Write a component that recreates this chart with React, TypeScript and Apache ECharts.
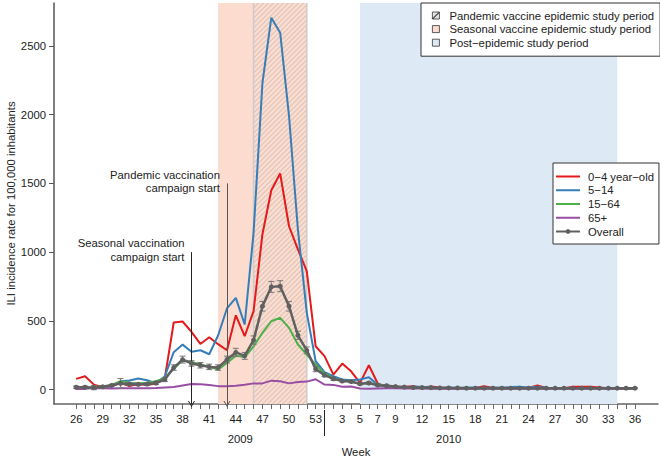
import React, { useEffect, useRef } from 'react';
import * as echarts from 'echarts';

const FONT = 'Liberation Sans, Arial, sans-serif';

// Weeks (2009: 26..53, 2010: 1..36)
const weeks2009 = [26, 27, 28, 29, 30, 31, 32, 33, 34, 35, 36, 37, 38, 39, 40, 41, 42, 43, 44, 45, 46, 47, 48, 49, 50, 51, 52, 53];
const weeks2010 = [1, 2, 3, 4, 5, 6, 7, 8, 9, 10, 11, 12, 13, 14, 15, 16, 17, 18, 19, 20, 21, 22, 23, 24, 25, 26, 27, 28, 29, 30, 31, 32, 33, 34, 35, 36];
const labeledWeeks2009 = [26, 29, 32, 35, 38, 41, 44, 47, 50, 53];
const labeledWeeks2010 = [3, 5, 7, 9, 12, 15, 18, 21, 24, 27, 30, 33, 36];
const yTicks = [0, 500, 1000, 1500, 2000, 2500];

// ILI incidence per 100,000
const age0to4 = [78, 97, 36, 18, 28, 48, 25, 40, 34, 44, 85, 488, 495, 420, 332, 381, 330, 286, 540, 388, 570, 1130, 1450, 1572, 1188, 1020, 861, 315, 243, 109, 189, 133, 49, 177, 44, 20, 15, 20, 25, 15, 22, 15, 12, 10, 10, 12, 25, 12, 10, 12, 15, 12, 30, 12, 10, 10, 20, 20, 20, 15, 10, 10, 8, 10];
const age5to14 = [15, 12, 15, 18, 22, 60, 66, 80, 68, 44, 97, 272, 327, 275, 286, 257, 393, 590, 667, 473, 1140, 2230, 2705, 2596, 1989, 1164, 560, 206, 127, 97, 73, 68, 73, 90, 36, 20, 18, 15, 20, 20, 15, 12, 15, 12, 15, 15, 12, 15, 15, 18, 20, 15, 20, 12, 12, 10, 10, 12, 12, 10, 10, 8, 8, 10];
const age15to64 = [12, 12, 16, 24, 34, 62, 49, 44, 49, 61, 85, 150, 215, 200, 182, 165, 146, 194, 247, 235, 315, 412, 497, 522, 449, 328, 255, 182, 115, 85, 65, 55, 45, 45, 40, 25, 18, 15, 12, 12, 10, 10, 10, 10, 10, 10, 10, 10, 10, 10, 10, 10, 12, 10, 10, 10, 10, 10, 10, 10, 10, 10, 10, 10];
const age65plus = [5, 5, 12, 10, 8, 10, 10, 10, 10, 12, 15, 18, 30, 40, 38, 33, 25, 24, 28, 35, 45, 45, 65, 60, 45, 55, 58, 75, 36, 34, 20, 22, 8, 6, 8, 10, 10, 8, 8, 8, 6, 6, 6, 6, 6, 6, 6, 6, 6, 6, 6, 6, 6, 6, 6, 6, 6, 6, 6, 6, 6, 6, 6, 6];
const overall = [17, 17, 14, 20, 30, 45, 40, 38, 40, 48, 73, 160, 218, 190, 177, 165, 160, 218, 270, 245, 360, 606, 747, 752, 606, 395, 285, 150, 105, 78, 62, 58, 42, 48, 32, 28, 22, 18, 15, 14, 14, 12, 12, 12, 10, 10, 10, 10, 10, 10, 10, 10, 10, 10, 10, 10, 10, 10, 10, 10, 10, 10, 10, 10];
const overallErr = [8, 8, 15, 8, 8, 35, 10, 10, 10, 12, 15, 20, 25, 20, 20, 20, 20, 25, 30, 25, 30, 35, 40, 40, 35, 30, 25, 20, 12, 10, 8, 8, 8, 8, 6, 5, 5, 5, 5, 4, 4, 4, 4, 4, 4, 4, 4, 4, 4, 4, 4, 4, 4, 4, 4, 4, 4, 4, 4, 4, 4, 4, 4, 4];

// Study periods: [year, startWeek, year, endWeek]
const seasonalPeriod = [2009, 42, 2009, 52];
const pandemicPeriod = [2009, 46, 2009, 52];
const postPeriod = [2010, 5, 2010, 34];

// Vaccination campaigns: [week 2009, arrow top value]
const seasonalCampaign = [39, 1000];
const pandemicCampaign = [43, 1500];

const NAME_PAN = 'Pandemic vaccine epidemic study period';
const NAME_SEA = 'Seasonal vaccine epidemic study period';
const NAME_POST = 'Post\u2212epidemic study period';
const NAME_A = '0\u22124 year\u2212old';
const NAME_B = '5\u221214';
const NAME_C = '15\u221264';
const NAME_D = '65+';
const NAME_ALL = 'Overall';

const idx = (year: number, week: number) =>
  year === 2009 ? weeks2009.indexOf(week) : weeks2009.length + weeks2010.indexOf(week);
const weekOf = (i: number) =>
  i < weeks2009.length ? weeks2009[i] : weeks2010[i - weeks2009.length];

const Y_MIN = -105;
const Y_MAX = 2812;
const FS = 11.3;

function periodSeries(name: string, period: number[], kind: 'fill' | 'hatch', color: string) {
  return {
    type: 'custom',
    name,
    z: 1,
    silent: true,
    coordinateSystem: 'cartesian2d',
    data: [[idx(period[0], period[1]), idx(period[2], period[3])]],
    encode: { x: [0, 1] },
    itemStyle: { color },
    renderItem: (params: any, api: any) => {
      const cs = params.coordSys;
      const xa = api.coord([api.value(0), 0])[0];
      const xb = api.coord([api.value(1), 0])[0];
      const y0 = cs.y;
      const y1 = cs.y + cs.height;
      if (kind === 'fill') {
        return {
          type: 'rect',
          shape: { x: xa, y: y0, width: xb - xa, height: y1 - y0 },
          style: { fill: color },
        };
      }
      const children: any[] = [];
      const step = 5;
      for (let c = xa + y0; c <= xb + y1; c += step) {
        const xs = Math.max(xa, c - y1);
        const xe = Math.min(xb, c - y0);
        if (xe > xs) {
          children.push({
            type: 'line',
            shape: { x1: xs, y1: c - xs, x2: xe, y2: c - xe },
            style: { stroke: 'rgba(140,140,140,0.55)', lineWidth: 0.8 },
          });
        }
      }
      children.push({ type: 'line', shape: { x1: xa, y1: y0, x2: xa, y2: y1 }, style: { stroke: '#cccccc', lineWidth: 1.5 } });
      children.push({ type: 'line', shape: { x1: xb, y1: y0, x2: xb, y2: y1 }, style: { stroke: '#cccccc', lineWidth: 1.5 } });
      return { type: 'group', children };
    },
  };
}

const toPairs = (arr: number[]) => arr.map((v, i) => [i, v]);

export default function App() {
  const ref = useRef<HTMLDivElement>(null);
  useEffect(() => {
    document.body.style.margin = '0';
    if (!ref.current) return;
    const chart = echarts.init(ref.current, null, { renderer: 'svg' });

    const tickIdx = [...weeks2009.map((w) => idx(2009, w)), ...weeks2010.map((w) => idx(2010, w))];
    const labelIdx = [...labeledWeeks2009.map((w) => idx(2009, w)), ...labeledWeeks2010.map((w) => idx(2010, w))];
    const errData = overall.map((v, i) => [i, v - overallErr[i], v + overallErr[i]]);

    const sIdx = idx(2009, seasonalCampaign[0]);
    const pIdx = idx(2009, pandemicCampaign[0]);

    const annoLabel = {
      show: true,
      position: 'left',
      distance: 7,
      offset: [0, -2],
      color: '#222',
      fontSize: FS,
      lineHeight: 13.5,
      fontFamily: FONT,
      align: 'right',
    };

    const hiddenSym = { opacity: 0 };

    const option: any = {
      animation: false,
      textStyle: { fontFamily: FONT },
      grid: { left: 54, right: 2, top: 3, bottom: 55, containLabel: false, outerBoundsMode: 'none' },
      legend: [
        {
          orient: 'vertical',
          left: 421,
          top: 3,
          padding: [6, 6, 7, 11],
          itemGap: 0.6,
          itemWidth: 7,
          itemHeight: 7,
          selectedMode: false,
          borderColor: '#333',
          borderWidth: 1,
          backgroundColor: '#fff',
          textStyle: { fontSize: FS, color: '#222', lineHeight: 13, padding: [0, 0, 0, 5], fontFamily: FONT },
          data: [
            {
              name: NAME_PAN,
              icon: 'path://M0,0H10V10H0Z M0,9.2L9.2,0L10,0.8L0.8,10Z',
              itemStyle: { color: '#e6e6e6', borderColor: '#333', borderWidth: 0.8 },
            },
            { name: NAME_SEA, icon: 'rect', itemStyle: { color: '#fcdcce', borderColor: '#333', borderWidth: 0.8 } },
            { name: NAME_POST, icon: 'rect', itemStyle: { color: '#dde9f5', borderColor: '#333', borderWidth: 0.8 } },
          ],
        },
        {
          orient: 'vertical',
          left: 553,
          top: 163,
          padding: [7, 5, 6, 2],
          itemGap: 0.75,
          itemWidth: 24,
          itemHeight: 6,
          selectedMode: false,
          borderColor: '#333',
          borderWidth: 1,
          backgroundColor: '#fff',
          textStyle: { fontSize: FS, color: '#222', lineHeight: 13, padding: [0, 0, 0, 3], fontFamily: FONT },
          data: [
            { name: NAME_A, itemStyle: hiddenSym },
            { name: NAME_B, itemStyle: hiddenSym },
            { name: NAME_C, itemStyle: hiddenSym },
            { name: NAME_D, itemStyle: hiddenSym },
            { name: NAME_ALL },
          ],
        },
      ],
      xAxis: {
        type: 'value',
        min: -2.5,
        max: 65.6,
        axisLine: { show: true, onZero: false, lineStyle: { color: '#666', width: 1.5 } },
        axisTick: { show: true, customValues: tickIdx, length: 5, lineStyle: { color: '#666', width: 1 } },
        axisLabel: {
          customValues: labelIdx,
          formatter: (v: number) => String(weekOf(Math.round(v))),
          margin: 9,
          fontSize: FS,
          color: '#222',
          fontFamily: FONT,
        },
        splitLine: { show: false },
        name: 'Week',
        nameLocation: 'middle',
        nameGap: 42,
        nameMoveOverlap: false,
        nameTextStyle: { fontSize: FS, color: '#222', fontFamily: FONT },
      },
      yAxis: {
        type: 'value',
        min: Y_MIN,
        max: Y_MAX,
        axisLine: { show: true, onZero: false, lineStyle: { color: '#555', width: 1.5 } },
        axisTick: { show: true, customValues: yTicks, length: 5, lineStyle: { color: '#555', width: 1 } },
        axisLabel: {
          customValues: yTicks,
          formatter: (v: number) => String(Math.round(v)),
          margin: 8,
          fontSize: FS,
          color: '#222',
          fontFamily: FONT,
        },
        splitLine: { show: false },
        name: 'ILI incidence rate for 100,000 inhabitants',
        nameLocation: 'middle',
        nameGap: 38,
        nameMoveOverlap: false,
        nameTextStyle: { fontSize: FS, color: '#222', fontFamily: FONT },
      },
      series: [
        periodSeries(NAME_SEA, seasonalPeriod, 'fill', '#fcdcce'),
        periodSeries(NAME_POST, postPeriod, 'fill', '#dde9f5'),
        periodSeries(NAME_PAN, pandemicPeriod, 'hatch', '#e6e6e6'),
        {
          type: 'line',
          name: NAME_A,
          data: toPairs(age0to4),
          symbol: 'none',
          z: 3,
          color: '#e41a1c',
          lineStyle: { width: 2, color: '#e41a1c' },
          markLine: {
            silent: true,
            symbol: ['none', 'path://M0,10L5,0L10,10L8.6,10L5,2.8L1.4,10Z'],
            symbolSize: [7, 6],
            label: { show: false },
            emphasis: { disabled: true },
            data: [
              [
                { coord: [sIdx, seasonalCampaign[1]], lineStyle: { color: '#222', width: 1, type: 'solid' } },
                { coord: [sIdx, Y_MIN] },
              ],
              [
                { coord: [pIdx, pandemicCampaign[1]], lineStyle: { color: '#555', width: 1, type: 'solid' } },
                { coord: [pIdx, Y_MIN] },
              ],
            ],
          },
          markPoint: {
            silent: true,
            symbol: 'circle',
            symbolSize: 0,
            data: [
              { coord: [sIdx, seasonalCampaign[1]], label: { ...annoLabel, formatter: 'Seasonal vaccination\ncampaign start' } },
              { coord: [pIdx, pandemicCampaign[1]], label: { ...annoLabel, formatter: 'Pandemic vaccination\ncampaign start' } },
            ],
          },
        },
        {
          type: 'line',
          name: NAME_B,
          data: toPairs(age5to14),
          symbol: 'none',
          z: 3,
          color: '#377eb8',
          lineStyle: { width: 2, color: '#377eb8' },
        },
        {
          type: 'line',
          name: NAME_C,
          data: toPairs(age15to64),
          symbol: 'none',
          z: 3,
          color: '#4daf4a',
          lineStyle: { width: 2, color: '#4daf4a' },
        },
        {
          type: 'line',
          name: NAME_D,
          data: toPairs(age65plus),
          symbol: 'none',
          z: 3,
          color: '#984ea3',
          lineStyle: { width: 2, color: '#984ea3' },
        },
        {
          type: 'custom',
          name: 'errbars',
          z: 4,
          silent: true,
          data: errData,
          encode: { x: 0, y: [1, 2] },
          renderItem: (params: any, api: any) => {
            const x = api.value(0);
            const lo = api.coord([x, api.value(1)]);
            const hi = api.coord([x, api.value(2)]);
            const hw = 3;
            const st = { stroke: '#777', lineWidth: 1 };
            return {
              type: 'group',
              children: [
                { type: 'line', shape: { x1: lo[0], y1: lo[1], x2: hi[0], y2: hi[1] }, style: st },
                { type: 'line', shape: { x1: lo[0] - hw, y1: lo[1], x2: lo[0] + hw, y2: lo[1] }, style: st },
                { type: 'line', shape: { x1: hi[0] - hw, y1: hi[1], x2: hi[0] + hw, y2: hi[1] }, style: st },
              ],
            };
          },
        },
        {
          type: 'line',
          name: NAME_ALL,
          data: toPairs(overall),
          symbol: 'circle',
          symbolSize: 5,
          z: 5,
          color: '#606060',
          itemStyle: { color: '#606060' },
          lineStyle: { width: 2.5, color: '#606060' },
        },
      ],
    };

    chart.setOption(option);

    const axisY = (chart.convertToPixel({ gridIndex: 0 } as any, [0, Y_MIN]) as number[])[1];
    const sepX = (chart.convertToPixel({ gridIndex: 0 } as any, [idx(2010, 1), 0]) as number[])[0];
    const x2009 = (chart.convertToPixel({ gridIndex: 0 } as any, [18.5, 0]) as number[])[0];
    const x2010 = (chart.convertToPixel({ gridIndex: 0 } as any, [idx(2010, 15), 0]) as number[])[0];

    chart.setOption({
      graphic: [
        {
          type: 'line',
          silent: true,
          shape: { x1: sepX, y1: axisY + 6, x2: sepX, y2: axisY + 32 },
          style: { stroke: '#222', lineWidth: 1 },
        },
        {
          type: 'text',
          silent: true,
          x: x2009,
          y: axisY + 35,
          style: { text: '2009', fill: '#222', font: `${FS}px ${FONT}`, align: 'center', verticalAlign: 'middle' },
        },
        {
          type: 'text',
          silent: true,
          x: x2010,
          y: axisY + 35,
          style: { text: '2010', fill: '#222', font: `${FS}px ${FONT}`, align: 'center', verticalAlign: 'middle' },
        },
      ],
    });

    return () => chart.dispose();
  }, []);
  return <div ref={ref} style={{ width: 660, height: 459 }} />;
}
